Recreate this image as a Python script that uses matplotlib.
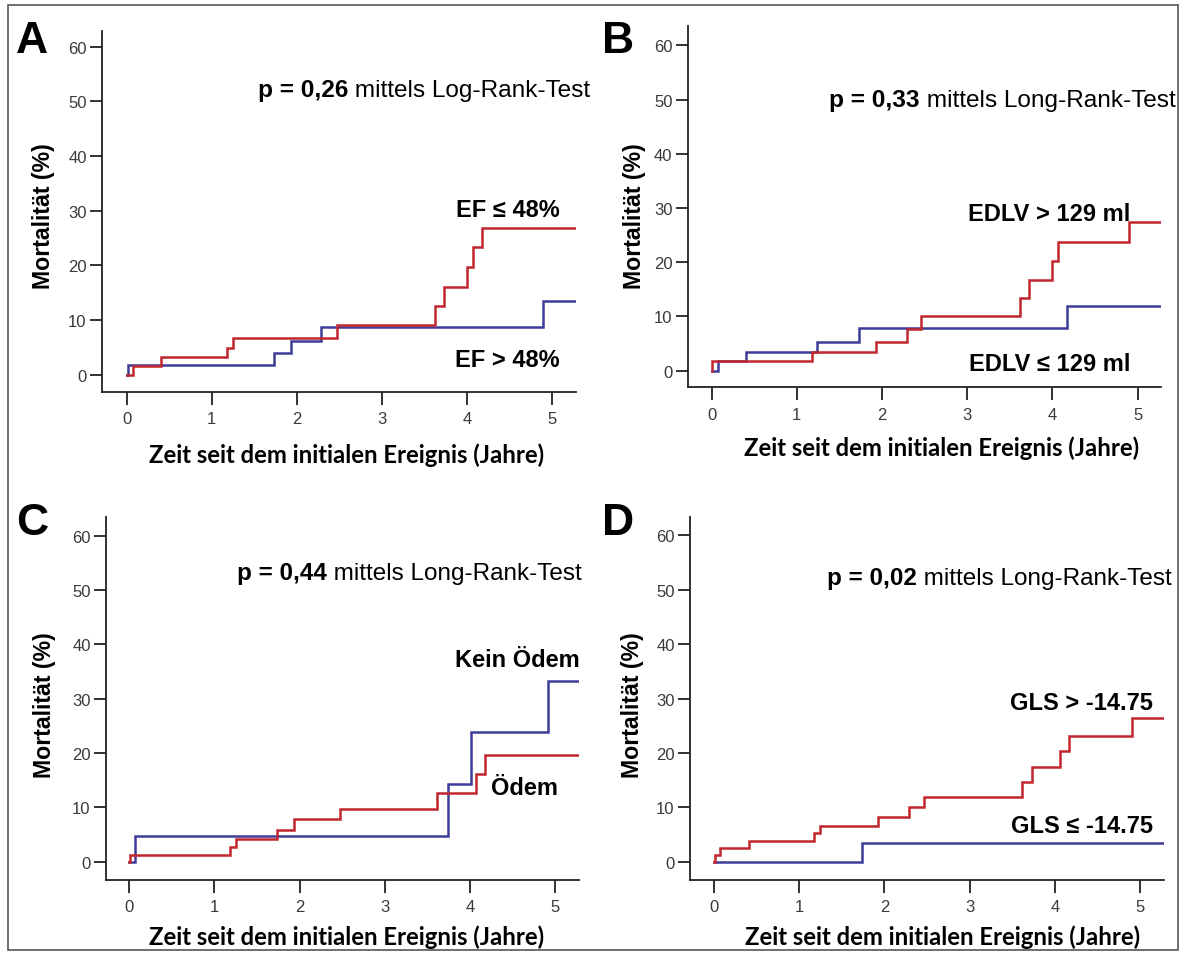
import matplotlib
matplotlib.use("Agg")
import matplotlib.pyplot as plt
from matplotlib.patches import Rectangle

# ---------------- data ----------------
panel_letters = ["A", "B", "C", "D"]
p_values = ["p = 0,26", "p = 0,33", "p = 0,44", "p = 0,02"]
p_suffix = [" mittels Log-Rank-Test", " mittels Long-Rank-Test",
            " mittels Long-Rank-Test", " mittels Long-Rank-Test"]

# Panel A
a_red_label = "EF ≤ 48%"
a_red_t = [0.0, 0.07, 0.40, 1.18, 1.25, 2.47, 3.62, 3.73, 4.00, 4.07, 4.18, 5.28]
a_red_v = [0.0, 1.65, 3.2, 4.9, 6.7, 9.1, 12.6, 16.1, 19.7, 23.3, 26.9, 26.9]
a_blue_label = "EF > 48%"
a_blue_t = [0.0, 0.01, 1.73, 1.93, 2.29, 4.90, 5.28]
a_blue_v = [0.0, 1.8, 4.0, 6.2, 8.7, 13.4, 13.4]

# Panel B
b_red_label = "EDLV > 129 ml"
b_red_t = [0.0, 0.01, 1.18, 1.93, 2.29, 2.46, 3.62, 3.73, 4.00, 4.06, 4.90, 5.27]
b_red_v = [0.0, 1.7, 3.4, 5.35, 7.7, 10.0, 13.4, 16.7, 20.2, 23.7, 27.4, 27.4]
b_blue_label = "EDLV ≤ 129 ml"
b_blue_t = [0.0, 0.07, 0.40, 1.24, 1.73, 4.17, 5.27]
b_blue_v = [0.0, 1.7, 3.4, 5.35, 7.8, 11.9, 11.9]

# Panel C
c_red_label = "Ödem"
c_red_t = [0.0, 0.01, 1.18, 1.25, 1.74, 1.93, 2.47, 3.61, 4.07, 4.18, 5.28]
c_red_v = [0.0, 1.3, 2.65, 4.2, 5.9, 7.8, 9.7, 12.65, 16.1, 19.7, 19.7]
c_blue_label = "Kein Ödem"
c_blue_t = [0.0, 0.075, 3.74, 4.01, 4.91, 5.28]
c_blue_v = [0.0, 4.8, 14.4, 23.8, 33.3, 33.3]

# Panel D
d_red_label = "GLS > -14.75"
d_red_t = [0.0, 0.01, 0.07, 0.41, 1.17, 1.24, 1.93, 2.29, 2.46, 3.61, 3.73, 4.06, 4.16, 4.91, 5.27]
d_red_v = [0.0, 1.2, 2.5, 3.8, 5.3, 6.5, 8.3, 10.0, 12.0, 14.6, 17.4, 20.4, 23.1, 26.4, 26.4]
d_blue_label = "GLS ≤ -14.75"
d_blue_t = [0.0, 1.74, 5.27]
d_blue_v = [0.0, 3.4, 3.4]

x_ticks = [0, 1, 2, 3, 4, 5]
y_ticks = [0, 10, 20, 30, 40, 50, 60]
x_label = "Zeit seit dem initialen Ereignis (Jahre)"
y_label = "Mortalität (%)"

# ---------------- style / layout ----------------
W, H = 1184, 954
RED = "#C1272D"
BLUE = "#3D3D99"
SANS = ["Liberation Sans", "DejaVu Sans"]

fig = plt.figure(figsize=(W / 100, H / 100), dpi=100)
fig.patch.set_facecolor("white")
r = fig.canvas.get_renderer()


def fx(x):
    return x / W


def fy(y):
    return 1 - y / H


# outer frame
fig.patches.append(Rectangle((fx(8), fy(951)), fx(1178) - fx(8), fy(6) - fy(951),
                             transform=fig.transFigure, fill=False,
                             edgecolor="#555555", linewidth=1.2))

panels = [
    dict(box=(102, 575.7, 31.7, 392.7), xlim=(-0.29, 5.28), ylim=(-3.1, 62.9),
         red=(a_red_t, a_red_v), blue=(a_blue_t, a_blue_v),
         letter_pos=(16, 52.7), p_pos=(258, 96.5), p_w=332,
         xlab=(347, 463), ylab=(44, 216.5),
         labels=[(a_red_label, 560, 216.7), (a_blue_label, 560, 366.7)]),
    dict(box=(687.7, 1160.7, 27.3, 388.3), xlim=(-0.28, 5.27), ylim=(-3.06, 63.5),
         red=(b_red_t, b_red_v), blue=(b_blue_t, b_blue_v),
         letter_pos=(602, 52.7), p_pos=(829, 107.5), p_w=346,
         xlab=(942, 456), ylab=(635, 216.5),
         labels=[(b_red_label, 1130.7, 220.7), (b_blue_label, 1130.7, 370.7)]),
    dict(box=(106, 579.3, 518.3, 880.7), xlim=(-0.27, 5.28), ylim=(-3.3, 63.4),
         red=(c_red_t, c_red_v), blue=(c_blue_t, c_blue_v),
         letter_pos=(16, 535), p_pos=(236.7, 580), p_w=345,
         xlab=(347, 945.5), ylab=(45, 705),
         labels=[(c_blue_label, 580, 667), (c_red_label, 558.3, 795)]),
    dict(box=(690, 1164, 518, 880.7), xlim=(-0.28, 5.28), ylim=(-3.3, 63.4),
         red=(d_red_t, d_red_v), blue=(d_blue_t, d_blue_v),
         letter_pos=(602, 535), p_pos=(826.7, 585), p_w=345,
         xlab=(942.5, 945.5), ylab=(633, 705),
         labels=[(d_red_label, 1153.3, 710), (d_blue_label, 1153.3, 833.3)]),
]

for i, P in enumerate(panels):
    l, rr, t, b = P["box"]
    ax = fig.add_axes([fx(l), fy(b), fx(rr) - fx(l), fy(t) - fy(b)])
    ax.set_facecolor("none")
    ax.set_xlim(*P["xlim"])
    ax.set_ylim(*P["ylim"])
    for s in ["top", "right"]:
        ax.spines[s].set_visible(False)
    for s in ["left", "bottom"]:
        ax.spines[s].set_linewidth(1.3)
        ax.spines[s].set_color("#222222")
    ax.set_xticks(x_ticks)
    ax.set_yticks(y_ticks)
    ax.tick_params(direction="out", length=9, width=1.3, color="#222222",
                   labelsize=12, labelcolor="#3a3a3a")
    ax.tick_params(axis="y", pad=2)
    ax.tick_params(axis="x", pad=5)
    for lab in ax.get_xticklabels() + ax.get_yticklabels():
        lab.set_family(SANS)

    bt, bv = P["blue"]
    rt, rv = P["red"]
    ax.step(bt, bv, where="post", color=BLUE, lw=1.8, solid_joinstyle="miter")
    ax.step(rt, rv, where="post", color=RED, lw=1.8, solid_joinstyle="miter")

    # panel letter
    fig.text(fx(P["letter_pos"][0]), fy(P["letter_pos"][1]), panel_letters[i],
             family=SANS, weight="bold", fontsize=32, ha="left", va="baseline")

    # p-value text (bold part + regular part), fitted to the measured width
    px, py = P["p_pos"]
    fs = 16.5
    t1 = fig.text(fx(px), fy(py), p_values[i], family=SANS, weight="bold",
                  fontsize=fs, ha="left", va="baseline")
    t2 = fig.text(0, fy(py), p_suffix[i], family=SANS, fontsize=fs,
                  ha="left", va="baseline")
    w1 = t1.get_window_extent(r).width
    w2 = t2.get_window_extent(r).width
    fs = fs * P["p_w"] / (w1 + w2)
    t1.set_fontsize(fs)
    t2.set_fontsize(fs)
    bb = t1.get_window_extent(r)
    t2.set_x(bb.x1 / W)

    # group labels
    for txt, xr, yb in P["labels"]:
        fig.text(fx(xr), fy(yb), txt, family=SANS, weight="bold", fontsize=17,
                 ha="right", va="baseline")

    # axis titles
    xl = fig.text(fx(P["xlab"][0]), fy(P["xlab"][1]), x_label,
                  family=["Lato", "DejaVu Sans"], weight="bold", fontsize=15,
                  ha="center", va="baseline")
    w0 = xl.get_window_extent(r).width
    xl.set_fontsize(15 * 396 / w0)

    yl = fig.text(fx(P["ylab"][0]), fy(P["ylab"][1]), y_label, family=SANS,
                  weight="bold", fontsize=15, rotation=90, ha="center", va="center")
    h0 = yl.get_window_extent(r).height
    yl.set_fontsize(15 * 147 / h0)

fig.savefig("out.png", dpi=100, facecolor="white")
